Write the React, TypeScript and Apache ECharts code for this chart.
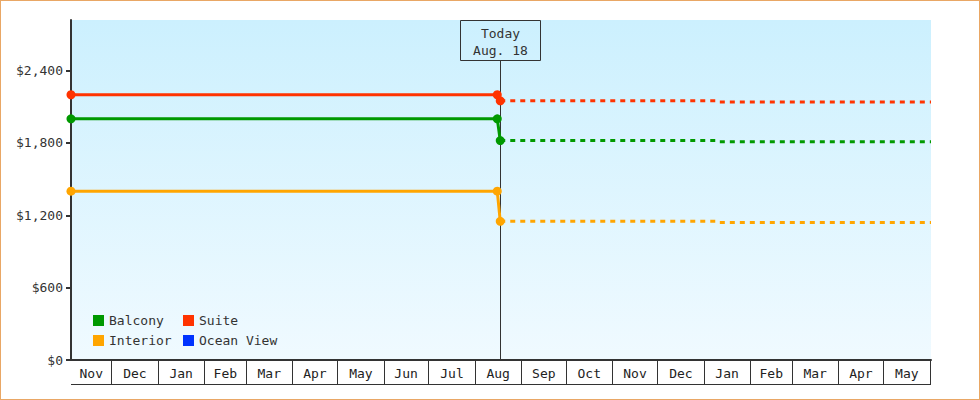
import React, { useEffect, useRef } from 'react';
import * as echarts from 'echarts';

const cabins = ['Balcony', 'Suite', 'Interior', 'Ocean View'];
const palette = ['#009900', '#ff3300', '#ffa500', '#0033ff'];

// prices up to today (solid) and the forecast after it (dashed)
const pastDates = ['2012-11-04', '2013-08-16', '2013-08-18'];
const futureDates = ['2013-08-18', '2014-01-09', '2014-01-10', '2014-06-02'];
const balconyPast = [2000, 2000, 1820];
const balconyFuture = [1820, 1820, 1810, 1810];
const suitePast = [2200, 2200, 2150];
const suiteFuture = [2150, 2150, 2140, 2140];
const interiorPast = [1400, 1400, 1150];
const interiorFuture = [1150, 1150, 1140, 1140];
const oceanViewPast: number[] = [];
const oceanViewFuture: number[] = [];

const yTicks = [0, 600, 1200, 1800, 2400];
const yMax = 2820;

const monthLabels = ['Nov', 'Dec', 'Jan', 'Feb', 'Mar', 'Apr', 'May', 'Jun', 'Jul', 'Aug',
    'Sep', 'Oct', 'Nov', 'Dec', 'Jan', 'Feb', 'Mar', 'Apr', 'May'];
const monthEdges = ['2012-11-04', '2012-12-01', '2013-01-01', '2013-02-01', '2013-03-01',
    '2013-04-01', '2013-05-01', '2013-06-01', '2013-07-01', '2013-08-01', '2013-09-01',
    '2013-10-01', '2013-11-01', '2013-12-01', '2014-01-01', '2014-02-01', '2014-03-01',
    '2014-04-01', '2014-05-01', '2014-06-01'];
const xMin = '2012-11-04';
const xMax = '2014-06-02';

const todayDate = '2013-08-18';
const todayLabel = ['Today', 'Aug. 18'];

const FONT = 'DejaVu Sans Mono';
const INK = '#333';

const t = (d: string) => Date.parse(d);
const pairs = (dates: string[], vals: number[]) => vals.map((v, i) => [t(dates[i]), v]);

export default function App() {
    const chartRef = useRef<HTMLDivElement>(null);

    useEffect(() => {
        const chart = echarts.init(chartRef.current!, undefined, { renderer: 'svg' });

        const past = [balconyPast, suitePast, interiorPast, oceanViewPast];
        const future = [balconyFuture, suiteFuture, interiorFuture, oceanViewFuture];

        const lineSeries: any[] = [];
        cabins.forEach((name, i) => {
            lineSeries.push({
                name,
                type: 'line',
                z: 3,
                data: pairs(pastDates, past[i]),
                symbol: 'circle',
                symbolSize: 9,
                showSymbol: true,
                color: palette[i],
                lineStyle: { width: 3, color: palette[i] },
                itemStyle: { color: palette[i] },
            });
            lineSeries.push({
                name,
                type: 'line',
                z: 2,
                data: pairs(futureDates, future[i]),
                showSymbol: false,
                color: palette[i],
                lineStyle: { width: 3, color: palette[i], type: [5, 5] },
                itemStyle: { color: palette[i] },
            });
        });

        const months = monthLabels.map((_, i) => [t(monthEdges[i]), t(monthEdges[i + 1])]);

        const legendBase = {
            orient: 'vertical',
            icon: 'rect',
            itemWidth: 11,
            itemHeight: 11,
            itemGap: 5,
            padding: 0,
            selectedMode: false,
            textStyle: { fontFamily: FONT, fontSize: 13, color: INK, lineHeight: 15 },
            top: 312,
        };

        chart.setOption({
            animation: false,
            legend: [
                { ...legendBase, left: 92, data: [cabins[0], cabins[2]] },
                { ...legendBase, left: 182, data: [cabins[1], cabins[3]] },
            ],
            grid: {
                left: 70,
                right: 48,
                top: 19,
                bottom: 39,
                show: true,
                borderWidth: 0,
                backgroundColor: new echarts.graphic.LinearGradient(0, 0, 0, 1, [
                    { offset: 0, color: '#ccf0fe' },
                    { offset: 1, color: '#f0faff' },
                ]),
            },
            xAxis: {
                type: 'time',
                min: t(xMin),
                max: t(xMax),
                axisLine: { show: true, lineStyle: { color: INK, width: 2 } },
                axisTick: { show: false },
                axisLabel: { show: false },
                splitLine: { show: false },
            },
            yAxis: {
                type: 'value',
                min: 0,
                max: yMax,
                interval: 600,
                axisLine: { show: true, lineStyle: { color: INK, width: 2 } },
                axisTick: { show: true, length: 5, lineStyle: { color: INK, width: 2 }, customValues: yTicks },
                axisLabel: {
                    customValues: yTicks,
                    margin: 8,
                    fontFamily: FONT,
                    fontSize: 13,
                    color: INK,
                    formatter: (v: number) => (yTicks.includes(v) ? '$' + v.toLocaleString('en-US') : ''),
                },
                splitLine: { show: false },
            },
            series: [
                ...lineSeries,
                {
                    type: 'custom',
                    name: 'months',
                    clip: false,
                    silent: true,
                    z: 1,
                    data: months,
                    encode: { x: [0, 1] },
                    renderItem: (params: any, api: any) => {
                        const cs = params.coordSys;
                        const x1 = Math.round(api.coord([api.value(1), 0])[0]) + 0.5;
                        const x0 = api.coord([api.value(0), 0])[0];
                        const yTop = cs.y + cs.height;
                        const yBot = yTop + 24.5;
                        const children: any[] = [
                            {
                                type: 'line',
                                shape: { x1, y1: yTop, x2: x1, y2: yBot },
                                style: { stroke: INK, lineWidth: 1 },
                            },
                            {
                                type: 'text',
                                x: (x0 + x1) / 2,
                                y: yTop + 13,
                                style: {
                                    text: monthLabels[params.dataIndex],
                                    fontFamily: FONT,
                                    fontSize: 13,
                                    fill: '#222',
                                    textAlign: 'center',
                                    textVerticalAlign: 'middle',
                                },
                            },
                        ];
                        if (params.dataIndex === 0) {
                            children.push({
                                type: 'line',
                                shape: { x1: cs.x, y1: yBot, x2: cs.x + cs.width, y2: yBot },
                                style: { stroke: INK, lineWidth: 1 },
                            });
                        }
                        return { type: 'group', children };
                    },
                },
                {
                    type: 'custom',
                    name: 'today',
                    clip: false,
                    silent: true,
                    z: 1,
                    data: [[t(todayDate)]],
                    encode: { x: 0 },
                    renderItem: (params: any, api: any) => {
                        const cs = params.coordSys;
                        const x = Math.round(api.coord([api.value(0), 0])[0]) + 0.5;
                        const boxTop = cs.y + 0.5;
                        return {
                            type: 'group',
                            children: [
                                {
                                    type: 'line',
                                    shape: { x1: x, y1: boxTop + 40, x2: x, y2: cs.y + cs.height },
                                    style: { stroke: INK, lineWidth: 1 },
                                },
                                {
                                    type: 'rect',
                                    shape: { x: x - 40, y: boxTop, width: 80, height: 40 },
                                    style: { fill: 'none', stroke: INK, lineWidth: 1 },
                                },
                                {
                                    type: 'text',
                                    x,
                                    y: boxTop + 21,
                                    style: {
                                        text: todayLabel.join('\n'),
                                        fontFamily: FONT,
                                        fontSize: 13,
                                        lineHeight: 17,
                                        fill: INK,
                                        textAlign: 'center',
                                        textVerticalAlign: 'middle',
                                    },
                                },
                            ],
                        };
                    },
                },
            ],
        });

        return () => {
            chart.dispose();
        };
    }, []);

    return (
        <div style={{ position: 'fixed', left: 0, top: 0, width: 980, height: 400, boxSizing: 'border-box', border: '1px solid #e9a765', background: '#fff' }}>
            <div ref={chartRef} style={{ width: 978, height: 398 }} />
        </div>
    );
}
